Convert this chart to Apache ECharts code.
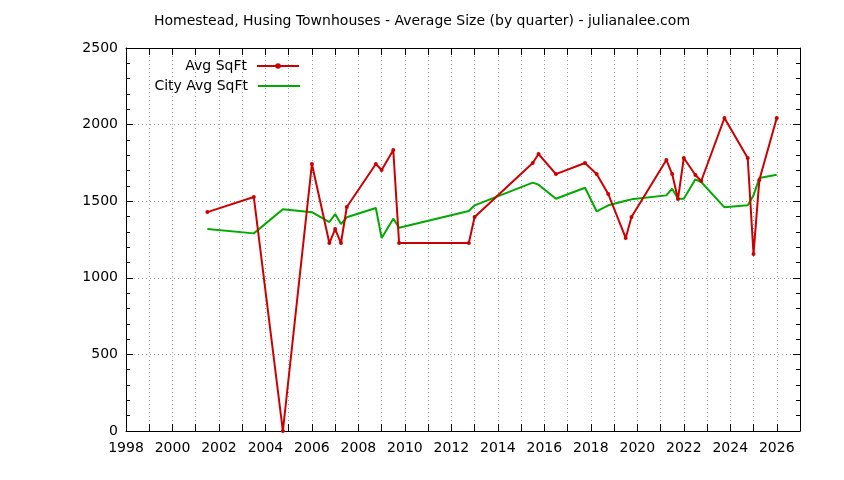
<!DOCTYPE html>
<html><head><meta charset="utf-8">
<script src="https://cdn.jsdelivr.net/npm/echarts@6/dist/echarts.min.js"></script>
<style>html,body{margin:0;padding:0;background:#fff}#c{width:844px;height:480px}</style>
</head><body><div id="c"></div>
<script>
const quarters = [2001.5,2003.5,2004.75,2006.0,2006.75,2007.0,2007.25,2007.5,2008.75,2009.0,2009.5,2009.75,2012.75,2013.0,2015.5,2015.75,2016.5,2017.75,2018.25,2018.75,2019.5,2019.75,2021.25,2021.5,2021.75,2022.0,2022.5,2022.75,2023.75,2024.75,2025.0,2025.25,2026.0];
const avgSqFt = [1429,1527,0,1743,1227,1318,1227,1462,1743,1704,1834,1227,1227,1397,1749,1808,1677,1749,1677,1547,1260,1397,1769,1677,1514,1782,1671,1632,2043,1782,1155,1638,2043];
const cityAvgSqFt = [1318,1290,1447,1428,1364,1416,1351,1395,1456,1260,1386,1327,1436,1473,1621,1608,1516,1588,1434,1473,1503,1512,1538,1582,1516,1516,1643,1625,1460,1473,1538,1651,1673];
const titleText = 'Homestead, Husing Townhouses - Average Size (by quarter) - julianalee.com';
const seriesNames = ['Avg SqFt','City Avg SqFt'];

const FONT = 'DejaVu Sans';
const chart = echarts.init(document.getElementById('c'), null, {renderer:'canvas'});
const gridLine = {show:true, lineStyle:{color:'#a0a0a0', type:[1,3], width:1}};
const xBase = {type:'value', min:1998, max:2027, interval:1,
  axisLine:{show:true, onZero:false, lineStyle:{color:'#000', width:1}},
  axisTick:{show:true, inside:true, length:7, lineStyle:{color:'#000'}}};
const yBase = {type:'value', min:0, max:2500, interval:500,
  axisLine:{show:true, onZero:false, lineStyle:{color:'#000', width:1}},
  axisTick:{show:true, inside:true, length:7, lineStyle:{color:'#000'}},
  minorTick:{show:true, splitNumber:5, length:4, lineStyle:{color:'#000'}}};
const legendText = {fontFamily:FONT, fontSize:14, color:'#000', padding:[0,5,0,0]};
chart.setOption({
  animation:false,
  backgroundColor:'#fff',
  title:{text:titleText, left:'center', top:9, textStyle:{fontFamily:FONT, fontSize:14, fontWeight:'normal', color:'#000'}},
  legend:[
    {data:[{name:seriesNames[0]}], orient:'vertical', right:544, top:59, padding:0, align:'right', itemWidth:42, itemHeight:7,
     textStyle:legendText},
    {data:[{name:seriesNames[1], icon:'rect'}], orient:'vertical', right:544, top:79, padding:0, align:'right', itemWidth:42, itemHeight:2,
     textStyle:legendText}
  ],
  grid:{left:126, right:44, top:48, bottom:49},
  xAxis:[
    Object.assign({}, xBase, {position:'bottom', splitLine:gridLine,
      axisLabel:{show:true, margin:10, fontFamily:FONT, fontSize:14, color:'#000', formatter:v => (v % 2 === 0 ? String(v) : '')}}),
    Object.assign({}, xBase, {position:'top', splitLine:{show:false}, axisLabel:{show:false}})
  ],
  yAxis:[
    Object.assign({}, yBase, {position:'left', splitLine:gridLine,
      axisLabel:{show:true, margin:8, fontFamily:FONT, fontSize:14, color:'#000', formatter:v => String(v)}}),
    Object.assign({}, yBase, {position:'right', splitLine:{show:false}, axisLabel:{show:false}})
  ],
  series:[
    {name:seriesNames[0], type:'line', xAxisIndex:0, yAxisIndex:0,
     data:quarters.map((q,i)=>[q, avgSqFt[i]]),
     symbol:'circle', symbolSize:4, showSymbol:true,
     lineStyle:{color:'#cc0000', width:2}, itemStyle:{color:'#cc0000'}, z:3},
    {name:seriesNames[1], type:'line', xAxisIndex:0, yAxisIndex:0,
     data:quarters.map((q,i)=>[q, cityAvgSqFt[i]]),
     symbol:'none', showSymbol:false,
     lineStyle:{color:'#00aa00', width:2}, itemStyle:{color:'#00aa00'}, z:2}
  ]
});
</script></body></html>
